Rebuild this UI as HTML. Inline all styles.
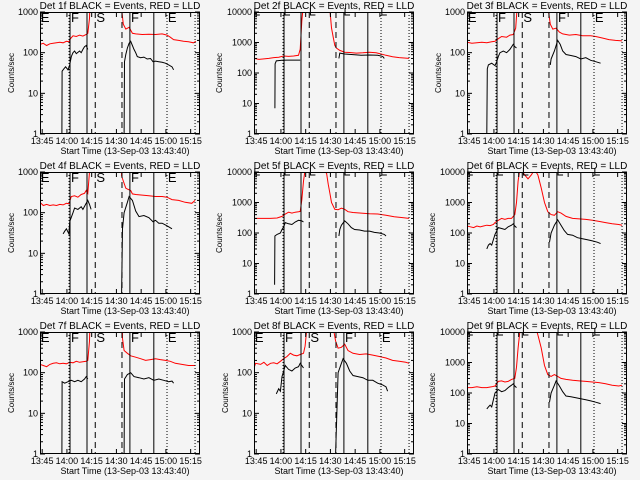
<!DOCTYPE html>
<html><head><meta charset="utf-8"><style>
html,body{margin:0;padding:0;background:#f4f4f4;}
svg{display:block;font-family:"Liberation Sans",sans-serif;}
</style></head><body>
<svg id="chart" width="640" height="480" viewBox="0 0 640 480" xmlns="http://www.w3.org/2000/svg">
<rect x="0" y="0" width="640" height="480" fill="#f4f4f4"/>
</svg>
<script>
// Time in minutes after 13:43:40 ; values in counts/sec
const detNames = ["1f","2f","3f","4f","5f","6f","7f","8f","9f"];
const yMaxes = [1000,10000,1000,1000,10000,10000,1000,1000,10000];
const tickLabelsX = ["13:45","14:00","14:15","14:30","14:45","15:00","15:15"];
const tickTimesX = [1.33,16.33,31.33,46.33,61.33,76.33,91.33];
const markerTimes = [17.6,18.2,28.5,33.5,49.7,54.5,69,77,94];
const markerStyles = ["dot","solid","solid","dash","dash","solid","solid","dot","dot"];
const letterTimes = [0.5,18.8,34.2,55.2,77.5];
const letterLabels = ["E","F","S","F","E"];

const red1 = [[0,160],[2,170],[4,150],[6,165],[8,170],[10,175],[12,180],[14,175],[16,190],[17.5,185],[18.5,220],[20,260],[22,250],[24,270],[26,255],[28,280],[29,300],[30,700],[31,20000],[49,20000],[49.5,1200],[50.5,500],[52,380],[54,420],[56,300],[58,290],[62,280],[66,285],[70,280],[74,290],[77,270],[79,240],[81,210],[84,200],[87,190],[90,185],[93,175],[94.5,190]];
const black1 = [[[13.3,1],[13.4,35],[14.5,40],[15.5,45],[17,38],[18,50],[19,80],[20,100],[21,110],[22,95],[24,110],[25,100],[26,120],[27,140],[28,150],[29,120]],[[51,1],[51.2,60],[52,90],[53,130],[54,170],[55,190],[56,150],[57,120],[58,100],[59,80],[61,75],[63,78],[65,70],[67,72],[68.5,60],[70,62],[72,60],[74,58],[76,55],[78,50],[80,45],[81,38]]];
const red2 = [[0,300],[3,280],[6,290],[9,300],[12,320],[15,330],[18,360],[21,350],[24,360],[27,380],[28,600],[29,5000],[30,20000],[45.5,20000],[46,12000],[47,3000],[48,1500],[49,800],[50,650],[52,550],[55,480],[58,470],[62,450],[66,460],[70,480],[74,460],[77,420],[80,380],[84,340],[88,320],[94,300]];
const black2 = [[[12.7,7],[12.8,200],[13.5,250],[17,260],[20,265],[25,265],[28,265]],[[51.5,300],[52,450],[55,420],[60,400],[65,380],[70,390],[75,380],[78,350],[79,300]]];
const red3 = [[0,180],[3,170],[6,175],[9,180],[12,175],[15,185],[17,190],[19,220],[21,250],[24,240],[26,270],[28,280],[29.5,400],[30.5,1500],[31,20000],[49,20000],[49.5,1000],[50.5,500],[52,380],[54,400],[56,320],[58,290],[62,270],[66,280],[70,260],[75,260],[78,250],[82,230],[86,210],[90,200],[94,195]];
const black3 = [[[12,1],[12.3,40],[13,50],[15,55],[17,48],[18,60],[19,80],[20,100],[22,110],[24,100],[26,120],[28,160],[29,140],[30,130]],[[50.5,50],[51,70],[53,110],[55,200],[56.5,160],[58,110],[60,90],[63,85],[66,80],[69,70],[72,75],[75,65],[78,60],[81,55]]];
const red4 = [[0,180],[2,150],[4,160],[6,150],[8,155],[10,150],[12,160],[14,155],[16,170],[17.5,165],[19,250],[21,260],[23,240],[25,280],[27,300],[28,350],[29,300],[30,1000],[31,20000],[49,20000],[49.5,800],[50.5,600],[52,400],[53,380],[55,350],[56,290],[58,280],[62,270],[66,260],[70,250],[74,250],[77,240],[80,210],[84,200],[88,180],[92,170],[94,200]];
const black4 = [[[14,30],[15,35],[16,40],[17.5,30],[18,60],[20,100],[21,130],[23,120],[25,140],[26,120],[28,170],[29,200],[30,160],[31,120]],[[49.5,1],[50,40],[51,100],[53,180],[54,250],[56,200],[58,110],[60,80],[63,85],[66,75],[68.5,60],[70,65],[72,55],[74,55],[76,50],[78,45],[80,40]]];
const red5 = [[0,300],[5,300],[10,300],[14,310],[17,350],[19,420],[21,480],[23,450],[25,480],[27,500],[28,510],[29,1200],[30,5000],[31,12000],[32,10000],[34,13000],[36,11000],[38,12000],[40,14000],[42,12000],[44,9000],[45,4000],[46,2000],[47,1000],[49,600],[51,580],[53,650],[55,600],[57,500],[60,470],[65,450],[70,430],[75,420],[80,380],[85,340],[90,320],[94,300]];
const black5 = [[[12.5,2],[12.7,80],[14,90],[16,100],[17,130],[18,160],[19,220],[21,200],[23,190],[25,230],[27,260],[29,250],[30,230]],[[51.5,80],[52,130],[53,180],[55,250],[57,200],[59,150],[61,130],[64,125],[67,115],[70,115],[73,105],[76,100],[79,90],[80,80]]];
const red6 = [[0,170],[2,160],[4,150],[6,170],[8,160],[10,170],[12,180],[14,175],[16,190],[17,220],[19,260],[21,300],[23,280],[25,300],[27,300],[29,400],[30,1000],[31,5000],[32,12000],[33,12000],[35,8000],[37,6000],[39,8000],[41,12000],[43,8000],[45,3000],[47,1000],[49,500],[51,400],[53,380],[55,500],[57,450],[60,350],[64,300],[68,290],[72,280],[76,260],[80,240],[84,220],[88,200],[92,190],[94,180]];
const black6 = [[[12,30],[13,40],[14,45],[15,40],[17,90],[19,150],[21,140],[23,130],[25,160],[27,180],[28,200],[29,170],[30,150]],[[50,50],[51,100],[53,180],[55,270],[57,180],[59,120],[61,90],[64,85],[67,70],[70,65],[73,60],[76,55],[79,50],[81,45]]];
const red7 = [[0,160],[2,150],[4,140],[6,160],[8,170],[10,175],[12,165],[14,170],[16,165],[18,180],[20,175],[22,190],[24,180],[26,185],[28,190],[29,200],[30,600],[31,20000],[49.5,20000],[50,700],[51,350],[53,300],[55,260],[58,240],[61,220],[64,200],[67,210],[70,220],[73,210],[76,200],[79,190],[82,170],[86,160],[90,150],[94,150]];
const black7 = [[[13.3,1],[13.4,60],[15,55],[17,60],[19,65],[21,60],[23,65],[25,60],[27,70],[28,80],[29,70]],[[51,1],[51.2,70],[53,90],[55,100],[57,80],[60,75],[63,70],[66,75],[69,65],[72,70],[75,65],[78,60],[80,62],[81,55]]];
const red8 = [[0,130],[1,170],[4,160],[6,180],[8,150],[10,170],[12,175],[14,165],[16,190],[18,220],[20,250],[22,300],[24,270],[26,260],[28,280],[30,300],[31,450],[32,1200],[33,20000],[48,20000],[48.5,1000],[49.5,600],[51,400],[53,420],[55,500],[57,350],[60,300],[64,280],[68,290],[72,270],[76,250],[80,230],[84,200],[88,190],[92,180],[94,170]];
const black8 = [[[13.5,30],[15,40],[16,35],[17,80],[19,150],[21,120],[23,110],[25,130],[27,140],[28,170],[29,150],[30,130]],[[49.5,1],[51,100],[53,170],[54,220],[56,170],[58,110],[60,85],[63,80],[66,75],[69,65],[72,65],[75,55],[78,50],[80,45],[81,35]]];
const red9 = [[0,150],[3,150],[6,160],[9,150],[12,150],[15,160],[17,170],[19,240],[21,250],[23,230],[25,240],[27,280],[29,300],[30,700],[31,3000],[32,10000],[33,15000],[36,12000],[39,12000],[42,12000],[43,8000],[45,3000],[47,800],[49,400],[51,350],[53,400],[55,350],[57,300],[60,280],[64,260],[68,250],[72,240],[76,230],[80,220],[84,200],[88,180],[92,170],[94,180]];
const black9 = [[[12,30],[13,35],[14,40],[15,35],[17,100],[19,130],[21,110],[23,120],[25,150],[27,180],[28,200],[29,170],[30,150]],[[50,50],[51,100],[53,180],[54,250],[56,170],[58,110],[60,80],[63,75],[66,70],[69,65],[72,60],[75,55],[78,50],[81,45]]];

const redSeries = [red1,red2,red3,red4,red5,red6,red7,red8,red9];
const blackSeries = [black1,black2,black3,black4,black5,black6,black7,black8,black9];

const NS = "http://www.w3.org/2000/svg";
const svg = document.getElementById("chart");
const colLefts = [40,254,467], rowTops = [12,172,332];
const PW = 160, PH = 122, TMAX = 97;

function mk(tag, attrs, parent){
  const e = document.createElementNS(NS, tag);
  for (const k in attrs) e.setAttribute(k, attrs[k]);
  parent.appendChild(e);
  return e;
}

for (let p = 0; p < 9; p++) {
  const L = colLefts[p % 3], T = rowTops[Math.floor(p / 3)];
  const ymax = yMaxes[p], dec = Math.log10(ymax);
  const xs = t => L + t / TMAX * PW;
  const ys = v => T + PH - Math.log10(v) / dec * PH;
  const g = mk("g", {}, svg);
  
  

  const clip = mk("clipPath", {id: "c" + p}, g);
  mk("rect", {x: L, y: T, width: PW, height: PH}, clip);

  // title
  const title = mk("text", {x: L + PW / 2, y: T - 3, "font-size": 10, "text-anchor": "middle", fill: "#000"}, g);
  title.textContent = "Det " + detNames[p] + " BLACK = Events, RED = LLD";
  
  

  // data lines
  const dg = mk("g", {"clip-path": "url(#c" + p + ")"}, g);
  const rp = mk("path", {d: redSeries[p].map((d, i) => (i ? "L" : "M") + xs(d[0]).toFixed(1) + " " + ys(d[1]).toFixed(1)).join(""), fill: "none", stroke: "#ff0000", "stroke-width": 1}, dg);
  
  
  blackSeries[p].forEach(seg => {
    const bp = mk("path", {d: seg.map((d, i) => (i ? "L" : "M") + xs(d[0]).toFixed(1) + " " + ys(d[1]).toFixed(1)).join(""), fill: "none", stroke: "#000", "stroke-width": 1}, dg);
    
    
  });

  // markers
  markerTimes.forEach((t, i) => {
    const st = markerStyles[i];
    const ml = mk("line", {x1: xs(t), x2: xs(t), y1: T, y2: T + PH, stroke: "#000", "stroke-width": 1,
      "stroke-dasharray": st === "dot" ? "1,2" : (st === "dash" ? "6,4" : "none")}, g);
    
    
  });
  letterTimes.forEach((t, i) => {
    if (ymax === 1000) {
      const lt = mk("text", {x: xs(t), y: T + 10, "font-size": 13, fill: "#000"}, g);
      lt.textContent = letterLabels[i];
      
      
    } else {
      const br = mk("path", {d: "M" + xs(t) + " " + (T - 4) + "L" + xs(t) + " " + (T + 3) + "L" + (xs(t) + 5) + " " + (T + 3), fill: "none", stroke: "#000"}, g);
      
      
    }
  });

  // frame
  const fr = mk("rect", {x: L + 0.5, y: T + 0.5, width: PW - 1, height: PH - 1, fill: "none", stroke: "#000"}, g);
  
  

  // y ticks
  for (let d = 0; d <= dec; d++) {
    const v = Math.pow(10, d), y = ys(v);
    mk("line", {x1: L, x2: L + 5, y1: y, y2: y, stroke: "#000"}, g);
    mk("line", {x1: L + PW, x2: L + PW - 5, y1: y, y2: y, stroke: "#000"}, g);
    const tl = mk("text", {x: L - 2, y: y + 3, "font-size": 9, "text-anchor": "end", fill: "#000"}, g);
    tl.textContent = String(v);
    
    
    if (d < dec) for (let m = 2; m <= 9; m++) {
      const ym = ys(v * m);
      mk("line", {x1: L, x2: L + 3, y1: ym, y2: ym, stroke: "#000"}, g);
      mk("line", {x1: L + PW, x2: L + PW - 3, y1: ym, y2: ym, stroke: "#000"}, g);
    }
  }
  // x ticks
  tickTimesX.forEach((t, i) => {
    const x = xs(t);
    mk("line", {x1: x, x2: x, y1: T + PH, y2: T + PH - 5, stroke: "#000"}, g);
    mk("line", {x1: x, x2: x, y1: T, y2: T + 5, stroke: "#000"}, g);
    const xl = mk("text", {x: x, y: T + PH + 10, "font-size": 9, "text-anchor": "middle", fill: "#000"}, g);
    xl.textContent = tickLabelsX[i];
    
    
  });
  const xt = mk("text", {x: L + PW / 2 + 5, y: T + PH + 20, "font-size": 9, "text-anchor": "middle", fill: "#000"}, g);
  xt.textContent = "Start Time (13-Sep-03 13:43:40)";
  
  
  const yx = L - (ymax === 1000 ? 26 : 32), yy = T + PH / 2;
  const yt = mk("text", {x: yx, y: yy, "font-size": 8, "text-anchor": "middle", fill: "#000", transform: "rotate(-90 " + yx + " " + yy + ")"}, g);
  yt.textContent = "Counts/sec";
  
  
}
</script>
</body></html>
